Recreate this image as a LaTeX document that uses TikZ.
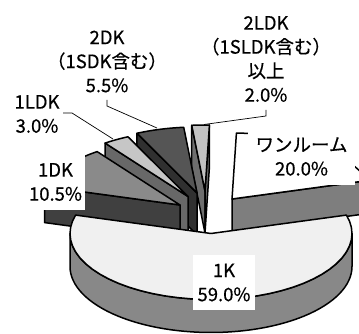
\documentclass[tikz,border=0pt]{standalone}
\usepackage{fontspec}
\setmainfont{Noto Sans CJK JP}
\newfontfamily\lblfont{Noto Sans CJK JP}[FakeBold=0.5]
\usetikzlibrary{calc}
\definecolor{kTop}{HTML}{F0F0F0}
\definecolor{kSide}{HTML}{888888}
\definecolor{wTop}{HTML}{FFFFFF}
\definecolor{wFace}{HTML}{7E7E7E}
\definecolor{dkTop}{HTML}{8A8A8A}
\definecolor{dkFace}{HTML}{404040}
\definecolor{ldkTop}{HTML}{C6C6C6}
\definecolor{ldkFace}{HTML}{686868}
\definecolor{sdkTop}{HTML}{555555}
\definecolor{sdkFace}{HTML}{303030}
\definecolor{lldkTop}{HTML}{C2C2C2}
\definecolor{lldkFace}{HTML}{6E6E6E}
\newcommand{\pieRX}{141}
\newcommand{\pieRY}{66}
\tikzset{
  pie/.style={draw=black, line width=1.5pt, line join=round},
  lbl/.style={font=\lblfont\fontsize{18.5}{24}\selectfont, align=center, inner sep=1pt},
  lblbox/.style={lbl, fill=white},
  leader/.style={draw=black, line width=0.7pt},
}
% top of a slice: centre (#1,#2), angles #3..#4, colour #5
\newcommand{\sliceTop}[5]{\path[pie, fill=#5] (#1,#2) -- plot[domain=#3:#4, samples=40] ({#1+\pieRX*cos(\x)},{#2+\pieRY*sin(\x)}) -- cycle;}
% radial face: centre (#1,#2), angle #3, thickness #4, colour #5
\newcommand{\sliceFace}[5]{\path[pie, fill=#5] (#1,#2) -- ++({\pieRX*cos(#3)},{\pieRY*sin(#3)}) -- ++(0,#4) -- (#1,{#2+#4}) -- cycle;}
\begin{document}
\begin{tikzpicture}[x=1pt, y=-1pt]
\useasboundingbox (0,0) rectangle (359,334);
% 2LDK
\sliceFace{205}{191}{264.6}{42}{lldkFace}
\sliceFace{205}{191}{271.8}{42}{lldkFace}
\sliceTop{205}{191}{264.6}{271.8}{lldkTop}
% 2DK
\sliceFace{197}{193}{244.8}{42}{sdkFace}
\sliceTop{197}{193}{244.8}{264.6}{sdkTop}
% 1LDK
\sliceFace{188}{196.5}{234}{42}{ldkFace}
\sliceTop{188}{196.5}{234}{244.8}{ldkTop}
% 1DK
\sliceFace{180}{205}{196.2}{36}{dkFace}
\sliceTop{180}{205}{196.2}{234}{dkTop}
% one-room
\sliceFace{232}{199}{343.8}{33}{wFace}
\sliceTop{232}{199}{271.8}{343.8}{wTop}
% 1K
\path[pie, fill=kSide] plot[domain=0:180, samples=60] ({211+\pieRX*cos(\x)},{233.5+\pieRY*sin(\x)})
  -- plot[domain=180:0, samples=60] ({211+\pieRX*cos(\x)},{266.5+\pieRY*sin(\x)}) -- cycle;
\sliceTop{211}{233.5}{-16.2}{196.2}{kTop}
% labels
\node[lbl] (n2dk) at (107,61.5) {2DK\\（1SDK含む）\\5.5\%};
\node[lbl] (n1ldk) at (37,114) {1LDK\\3.0\%};
\node[lblbox, minimum width=58pt, minimum height=57pt] (n1dk) at (55.5,182) {1DK\\10.5\%};
\node[lbl] (n2ldk) at (266,59) {2LDK\\（1SLDK含む）\\以上\\2.0\%};
\node[lblbox, minimum width=107pt, minimum height=57pt] (nwr) at (301.5,156.5) {ワンルーム\\20.0\%};
\node[lblbox, minimum width=62pt, minimum height=55pt] (n1k) at (224,282.5) {1K\\59.0\%};
% leader lines
\coordinate (t2dk) at (107,100);
\coordinate (k2dk) at (107,106);
\coordinate (e2dk) at (157,128);
\draw[leader] (t2dk) -- (k2dk) -- (e2dk);
\coordinate (t1ldk) at (63,113);
\coordinate (k1ldk) at (72,113);
\coordinate (e1ldk) at (113,139);
\draw[leader] (t1ldk) -- (k1ldk) -- (e1ldk);
\coordinate (t2ldk) at (266,110);
\coordinate (k2ldk) at (266,116);
\coordinate (e2ldk) at (204,124.5);
\draw[leader] (t2ldk) -- (k2ldk) -- (e2ldk);
\end{tikzpicture}
\end{document}
